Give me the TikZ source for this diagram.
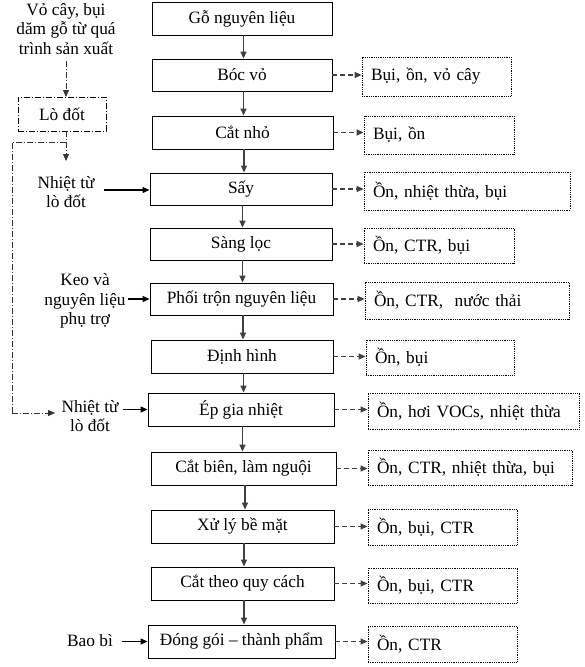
\documentclass[tikz,border=0pt]{standalone}
\usepackage{fontspec}
\setmainfont{Liberation Serif}
\usetikzlibrary{arrows.meta,calc}
\begin{document}
\begin{tikzpicture}[x=1pt,y=-1pt,
  font=\fontsize{17.3}{19.5}\selectfont,
  mainbox/.style={draw=black,line width=0.9pt,inner sep=0pt,align=center},
  rbox/.style={draw=black,line width=0.8pt,densely dotted,inner xsep=9pt,inner ysep=0pt,align=left},
  lobox/.style={draw=black,line width=0.8pt,dash pattern=on 6pt off 2pt on 1pt off 2pt,inner sep=0pt},
  plain/.style={align=center,inner sep=3pt},
  tip/.style={-{Triangle[length=7pt,width=6pt]}},
  flow/.style={tip,draw=black!75,line width=1.4pt},
  side/.style={tip,draw=black,line width=1.1pt},
  emis/.style={tip,draw=black!75,line width=1.3pt,dash pattern=on 5pt off 3pt},
  dd/.style={draw=black!80,line width=0.8pt,dash pattern=on 6pt off 2pt on 1pt off 2pt},
  ddtip/.style={dd,tip}
]
\useasboundingbox (0,0) rectangle (585,667);

% main column
\node[mainbox,minimum width=180,minimum height=33] (b1) at (242,18.5) {Gỗ nguyên liệu};
\node[mainbox,minimum width=180,minimum height=32] (b2) at (242,75) {Bóc vỏ};
\node[mainbox,minimum width=181,minimum height=33] (b3) at (242.5,132.5) {Cắt nhỏ};
\node[mainbox,minimum width=182,minimum height=32] (b4) at (241,189) {Sấy};
\node[mainbox,minimum width=182,minimum height=32] (b5) at (241,244) {Sàng lọc};
\node[mainbox,minimum width=183,minimum height=32] (b6) at (241.5,299) {Phối trộn nguyên liệu};
\node[mainbox,minimum width=182,minimum height=33] (b7) at (242,356.5) {Định hình};
\node[mainbox,minimum width=186,minimum height=33] (b8) at (241,409.5) {Ép gia nhiệt};
\node[mainbox,minimum width=185,minimum height=33] (b9) at (243.5,468.5) {Cắt biên, làm nguội};
\node[mainbox,minimum width=183,minimum height=33] (b10) at (242.5,526.5) {Xử lý bề mặt};
\node[mainbox,minimum width=183,minimum height=33] (b11) at (242.5,583.5) {Cắt theo quy cách};
\node[mainbox,minimum width=187,minimum height=33] (b12) at (241.5,641.5) {Đóng gói – thành phẩm};

% emission boxes
\node[rbox,minimum width=149,minimum height=39,text width=131] (r2) at (436.5,76.5) {Bụi, ồn, vỏ cây};
\node[rbox,minimum width=150,minimum height=38,text width=132] (r3) at (439,135) {Bụi, ồn};
\node[rbox,minimum width=206,minimum height=38,text width=188] (r4) at (467,191) {Ồn, nhiệt thừa, bụi};
\node[rbox,minimum width=150,minimum height=35,text width=132] (r5) at (439,245.5) {Ồn, CTR, bụi};
\node[rbox,minimum width=204,minimum height=37,text width=186] (r6) at (467,300.5) {Ồn, CTR, \ nước thải};
\node[rbox,minimum width=148,minimum height=35,text width=130] (r7) at (440,357.5) {Ồn, bụi};
\node[rbox,minimum width=211,minimum height=36,text width=193] (r8) at (473.5,411) {Ồn, hơi VOCs, nhiệt thừa};
\node[rbox,minimum width=204,minimum height=35,text width=186] (r9) at (470,467.5) {Ồn, CTR, nhiệt thừa, bụi};
\node[rbox,minimum width=149,minimum height=36,text width=131] (r10) at (442.5,527) {Ồn, bụi, CTR};
\node[rbox,minimum width=149,minimum height=35,text width=131] (r11) at (442.5,585.5) {Ồn, bụi, CTR};
\node[rbox,minimum width=149,minimum height=36,text width=131] (r12) at (442.5,644) {Ồn, CTR};

% main flow arrows
\foreach \a/\b in {b1/b2,b2/b3,b3/b4,b4/b5,b5/b6,b6/b7,b7/b8,b8/b9,b9/b10,b10/b11,b11/b12}{
  \draw[flow] ($(\a.south)+(1.5,0)$) -- ($(\a.south |- \b.north)+(1.5,0)$);
}
% emission arrows
\foreach \i in {2,...,12}{
  \draw[emis] (b\i.east) -- (b\i.east -| r\i.west);
}

% left side
\node[plain] (src) at (66,29) {Vỏ cây, bụi\\dăm gỗ từ quá\\trình sản xuất};
\node[lobox,minimum width=88,minimum height=34] (lo) at (62,114) {Lò đốt};
\coordinate (srcb) at (66,61);
\coordinate (lotop) at (66,97);
\coordinate (lobot) at (66,131);
\coordinate (h1top) at (66,161);
\coordinate (br) at (66,142);
\coordinate (brl) at (12,142);
\coordinate (brd) at (12,413);
\coordinate (h2tip) at (55,413);
\draw[ddtip] (srcb) -- (lotop);
\draw[ddtip] (lobot) -- (h1top);
\draw[dd] (br) -- (brl) -- (brd);
\draw[ddtip] (brd) -- (h2tip);

\node[plain] (nh1) at (66,192) {Nhiệt từ\\lò đốt};
\node[plain] (keo) at (85,301) {Keo và\\nguyên liệu\\phụ trợ};
\node[plain] (nh2) at (90,416) {Nhiệt từ\\lò đốt};
\node[plain] (bao) at (90,641) {Bao bì};

\draw[side] ($(nh1.east |- b4.west)+(6,1)$) -- ($(b4.west)+(0,1)$);
\draw[side] ($(keo.east |- b6.west)+(-1,0)$) -- (b6.west);
\draw[side] ($(nh2.east |- b8.west)+(1,0)$) -- (b8.west);
\draw[side] ($(bao.east |- b12.west)+(6,0)$) -- (b12.west);
\end{tikzpicture}
\end{document}
